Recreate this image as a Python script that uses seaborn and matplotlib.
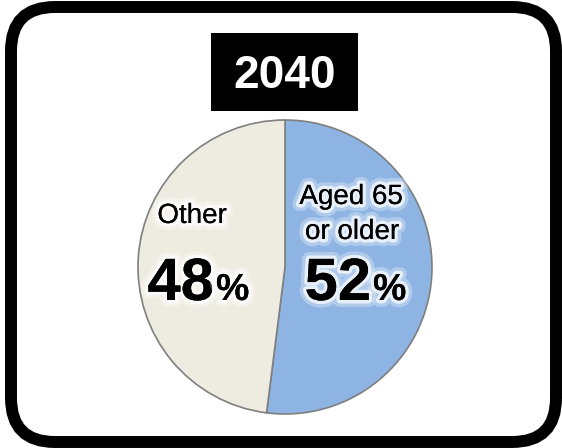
import matplotlib
matplotlib.use("Agg")
import matplotlib.pyplot as plt
import matplotlib.patheffects as pe
from matplotlib.patches import FancyBboxPatch, Rectangle
import seaborn as sns

sns.set_theme(style="white")
plt.rcParams['font.family'] = ['Liberation Sans', 'DejaVu Sans']
plt.rcParams['text.color'] = 'black'

title = "2040"
categories = ["Aged 65\nor older", "Other"]
values = [52, 48]
colors = ["#8db4e2", "#eeece1"]

fig = plt.figure(figsize=(5.62, 4.48), dpi=100)
ax = fig.add_axes([0, 0, 1, 1])
ax.set_xlim(0, 562)
ax.set_ylim(448, 0)
ax.axis("off")

# rounded frame
frame = FancyBboxPatch((11, 7), 545, 435, boxstyle="round,pad=0,rounding_size=44",
                       linewidth=8.6, edgecolor="black", facecolor="white",
                       transform=ax.transData, zorder=0)
ax.add_patch(frame)

# title box
ax.add_patch(Rectangle((211, 33), 147, 78, facecolor="black", edgecolor="none", zorder=1))
ax.text(284.5, 88, title, color="white", fontsize=33, fontweight="bold",
        ha="center", va="baseline", zorder=2)

# pie (y axis inverted: counterclock in data = clockwise on screen)
wedges, _ = ax.pie(values, colors=colors, startangle=-90, counterclock=True,
                   center=(285, 267), radius=147, frame=True,
                   wedgeprops=dict(edgecolor="#7f7f7f", linewidth=1.2))
for w in wedges:
    w.set_zorder(1)
ax.set_xlim(0, 562)
ax.set_ylim(448, 0)
ax.axis("off")

glow = [pe.withStroke(linewidth=10, foreground="white", alpha=0.3),
        pe.withStroke(linewidth=5, foreground="white", alpha=0.7),
        pe.Normal()]

# labels
ax.text(192, 223, categories[1], fontsize=20, ha="center", va="baseline",
        color="black", path_effects=glow, zorder=3)
lines = categories[0].split("\n")
ax.text(351, 204, lines[0], fontsize=20, ha="center", va="baseline",
        color="black", path_effects=glow, zorder=3)
ax.text(352, 239, lines[1], fontsize=20, ha="center", va="baseline",
        color="black", path_effects=glow, zorder=3)

# percentages
ax.text(214, 300, f"{values[1]}", fontsize=43, fontweight="bold", ha="right",
        va="baseline", color="black", path_effects=glow, zorder=3)
ax.text(216, 300, "%", fontsize=27, fontweight="bold", ha="left",
        va="baseline", color="black", path_effects=glow, zorder=3)
ax.text(371, 300, f"{values[0]}", fontsize=43, fontweight="bold", ha="right",
        va="baseline", color="black", path_effects=glow, zorder=3)
ax.text(373, 300, "%", fontsize=27, fontweight="bold", ha="left",
        va="baseline", color="black", path_effects=glow, zorder=3)

fig.savefig("out.png", dpi=100)
